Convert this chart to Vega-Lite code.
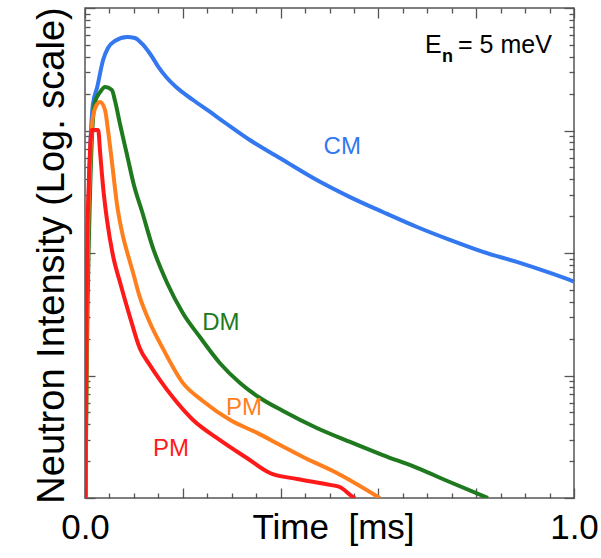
{
  "$schema": "https://vega.github.io/schema/vega-lite/v6.json",
  "width": 489,
  "height": 490,
  "autosize": {"type": "none"},
  "padding": {"left": 85, "top": 8, "right": 27, "bottom": 60},
  "background": "white",
  "config": {
    "view": {"stroke": "#555555", "strokeWidth": 1.5},
    "font": "Liberation Sans",
    "axis": {"domain": false, "grid": false}
  },
  "resolve": {"axis": {"x": "independent", "y": "independent"}},
  "layer": [
    {
      "data": {"values": [
        {"s": "CM", "t": 0.001, "I": 1},
        {"s": "CM", "t": 0.002, "I": 6.3},
        {"s": "CM", "t": 0.006, "I": 128},
        {"s": "CM", "t": 0.016, "I": 1615},
        {"s": "CM", "t": 0.025, "I": 2265},
        {"s": "CM", "t": 0.037, "I": 3763},
        {"s": "CM", "t": 0.047, "I": 4713},
        {"s": "CM", "t": 0.061, "I": 5383},
        {"s": "CM", "t": 0.086, "I": 5799},
        {"s": "CM", "t": 0.102, "I": 5690},
        {"s": "CM", "t": 0.117, "I": 5090},
        {"s": "CM", "t": 0.133, "I": 4230},
        {"s": "CM", "t": 0.149, "I": 3360},
        {"s": "CM", "t": 0.166, "I": 2730},
        {"s": "CM", "t": 0.188, "I": 2230},
        {"s": "CM", "t": 0.221, "I": 1774},
        {"s": "CM", "t": 0.256, "I": 1416},
        {"s": "CM", "t": 0.29, "I": 1130},
        {"s": "CM", "t": 0.337, "I": 836},
        {"s": "CM", "t": 0.405, "I": 574},
        {"s": "CM", "t": 0.474, "I": 394},
        {"s": "CM", "t": 0.542, "I": 286},
        {"s": "CM", "t": 0.609, "I": 216},
        {"s": "CM", "t": 0.679, "I": 163},
        {"s": "CM", "t": 0.746, "I": 128},
        {"s": "CM", "t": 0.814, "I": 102},
        {"s": "CM", "t": 0.883, "I": 84.5},
        {"s": "CM", "t": 0.951, "I": 68.7},
        {"s": "CM", "t": 1.0, "I": 58.5},

        {"s": "DM", "t": 0.001, "I": 1},
        {"s": "DM", "t": 0.004, "I": 16.1},
        {"s": "DM", "t": 0.01, "I": 271},
        {"s": "DM", "t": 0.02, "I": 1676},
        {"s": "DM", "t": 0.031, "I": 2062},
        {"s": "DM", "t": 0.041, "I": 2265},
        {"s": "DM", "t": 0.055, "I": 2142},
        {"s": "DM", "t": 0.061, "I": 1774},
        {"s": "DM", "t": 0.072, "I": 1109},
        {"s": "DM", "t": 0.086, "I": 631},
        {"s": "DM", "t": 0.1, "I": 359},
        {"s": "DM", "t": 0.117, "I": 216},
        {"s": "DM", "t": 0.137, "I": 116},
        {"s": "DM", "t": 0.168, "I": 56.9},
        {"s": "DM", "t": 0.2, "I": 32.4},
        {"s": "DM", "t": 0.235, "I": 20.6},
        {"s": "DM", "t": 0.276, "I": 12.6},
        {"s": "DM", "t": 0.317, "I": 8.69},
        {"s": "DM", "t": 0.358, "I": 6.55},
        {"s": "DM", "t": 0.405, "I": 5.13},
        {"s": "DM", "t": 0.474, "I": 3.73},
        {"s": "DM", "t": 0.542, "I": 2.87},
        {"s": "DM", "t": 0.609, "I": 2.24},
        {"s": "DM", "t": 0.679, "I": 1.76},
        {"s": "DM", "t": 0.746, "I": 1.35},
        {"s": "DM", "t": 0.824, "I": 1.0},

        {"s": "PM1", "t": 0.001, "I": 1},
        {"s": "PM1", "t": 0.004, "I": 41.3},
        {"s": "PM1", "t": 0.01, "I": 476},
        {"s": "PM1", "t": 0.016, "I": 1289},
        {"s": "PM1", "t": 0.025, "I": 1645},
        {"s": "PM1", "t": 0.031, "I": 1710},
        {"s": "PM1", "t": 0.041, "I": 1469},
        {"s": "PM1", "t": 0.047, "I": 1009},
        {"s": "PM1", "t": 0.057, "I": 476},
        {"s": "PM1", "t": 0.065, "I": 256},
        {"s": "PM1", "t": 0.078, "I": 135},
        {"s": "PM1", "t": 0.088, "I": 96},
        {"s": "PM1", "t": 0.098, "I": 69.6},
        {"s": "PM1", "t": 0.112, "I": 43.8},
        {"s": "PM1", "t": 0.133, "I": 26.8},
        {"s": "PM1", "t": 0.16, "I": 16.4},
        {"s": "PM1", "t": 0.2, "I": 8.7},
        {"s": "PM1", "t": 0.241, "I": 6.2},
        {"s": "PM1", "t": 0.297, "I": 4.33},
        {"s": "PM1", "t": 0.352, "I": 3.4},
        {"s": "PM1", "t": 0.399, "I": 2.71},
        {"s": "PM1", "t": 0.446, "I": 2.16},
        {"s": "PM1", "t": 0.515, "I": 1.6},
        {"s": "PM1", "t": 0.603, "I": 1.0},

        {"s": "PM2", "t": 0.001, "I": 1},
        {"s": "PM2", "t": 0.002, "I": 6.3},
        {"s": "PM2", "t": 0.004, "I": 87.7},
        {"s": "PM2", "t": 0.008, "I": 394},
        {"s": "PM2", "t": 0.014, "I": 1009},
        {"s": "PM2", "t": 0.027, "I": 1009},
        {"s": "PM2", "t": 0.031, "I": 655},
        {"s": "PM2", "t": 0.037, "I": 346},
        {"s": "PM2", "t": 0.045, "I": 186},
        {"s": "PM2", "t": 0.057, "I": 96.3},
        {"s": "PM2", "t": 0.072, "I": 56.9},
        {"s": "PM2", "t": 0.092, "I": 30.0},
        {"s": "PM2", "t": 0.112, "I": 16.7},
        {"s": "PM2", "t": 0.133, "I": 12.1},
        {"s": "PM2", "t": 0.153, "I": 9.2},
        {"s": "PM2", "t": 0.18, "I": 6.6},
        {"s": "PM2", "t": 0.221, "I": 4.33},
        {"s": "PM2", "t": 0.276, "I": 2.97},
        {"s": "PM2", "t": 0.331, "I": 2.12},
        {"s": "PM2", "t": 0.378, "I": 1.6},
        {"s": "PM2", "t": 0.434, "I": 1.43},
        {"s": "PM2", "t": 0.501, "I": 1.28},
        {"s": "PM2", "t": 0.521, "I": 1.23},
        {"s": "PM2", "t": 0.548, "I": 1.02},
        {"s": "PM2", "t": 0.552, "I": 1.0}
      ]},
      "mark": {"type": "line", "strokeWidth": 4, "interpolate": "monotone", "clip": true},
      "encoding": {
        "x": {
          "field": "t", "type": "quantitative",
          "scale": {"domain": [0, 1], "nice": false, "zero": false},
          "axis": {
            "orient": "bottom",
            "values": [0, 0.05, 0.1, 0.15, 0.2, 0.25, 0.3, 0.35, 0.4, 0.45, 0.5, 0.55, 0.6, 0.65, 0.7, 0.75, 0.8, 0.85, 0.9, 0.95, 1],
            "tickSize": {"condition": {"test": "abs(datum.value*5 - round(datum.value*5)) < 0.001", "value": -10}, "value": -5},
            "tickColor": "#555555", "tickWidth": 1.3,
            "labelExpr": "datum.value === 0 ? '0.0' : (datum.value === 1 ? '1.0' : '')",
            "labelFontSize": 35, "labelColor": "black", "labelPadding": 50,
            "labelBaseline": "alphabetic", "labelAlign": "center", "labelFlush": false, "labelOverlap": false,
            "title": "Time\u00a0 [ms]", "titleFontSize": 35, "titleFontWeight": "normal", "titleColor": "black",
            "titleX": 248, "titleY": 40, "titleBaseline": "alphabetic", "titleAlign": "center"
          }
        },
        "y": {
          "field": "I", "type": "quantitative",
          "scale": {"type": "log", "domain": [1, 10000], "nice": false},
          "axis": {
            "orient": "left",
            "values": [1,2,3,4,5,6,7,8,9,10,20,30,40,50,60,70,80,90,100,200,300,400,500,600,700,800,900,1000,2000,3000,4000,5000,6000,7000,8000,9000,10000],
            "tickSize": {"condition": {"test": "abs(log(datum.value)/LN10 - round(log(datum.value)/LN10)) < 0.001", "value": -10}, "value": -5},
            "tickColor": "#555555", "tickWidth": 1.3,
            "labels": false,
            "title": "Neutron Intensity (Log. scale)", "titleFontSize": 38, "titleFontWeight": "normal", "titleColor": "black",
            "titleAngle": -90, "titleX": -22, "titleY": 247, "titleBaseline": "alphabetic", "titleAlign": "center"
          }
        },
        "color": {
          "field": "s", "type": "nominal",
          "scale": {"domain": ["CM", "DM", "PM1", "PM2"], "range": ["#3478f0", "#1f7a1f", "#ff7f1e", "#ff1a1a"]},
          "legend": null
        }
      }
    },
    {
      "data": {"values": [
        {"s": "CM", "label": "CM", "t": 0.526, "I": 733},
        {"s": "DM", "label": "DM", "t": 0.278, "I": 26.8},
        {"s": "PM1", "label": "PM", "t": 0.325, "I": 5.43},
        {"s": "PM2", "label": "PM", "t": 0.176, "I": 2.51}
      ]},
      "mark": {"type": "text", "fontSize": 24, "align": "center", "baseline": "middle"},
      "encoding": {
        "x": {
          "field": "t", "type": "quantitative",
          "axis": {
            "orient": "top",
            "values": [0, 0.05, 0.1, 0.15, 0.2, 0.25, 0.3, 0.35, 0.4, 0.45, 0.5, 0.55, 0.6, 0.65, 0.7, 0.75, 0.8, 0.85, 0.9, 0.95, 1],
            "tickSize": {"condition": {"test": "abs(datum.value*5 - round(datum.value*5)) < 0.001", "value": -10}, "value": -5},
            "tickColor": "#555555", "tickWidth": 1.3,
            "labels": false, "title": null
          }
        },
        "y": {
          "field": "I", "type": "quantitative",
          "axis": {
            "orient": "right",
            "values": [1,2,3,4,5,6,7,8,9,10,20,30,40,50,60,70,80,90,100,200,300,400,500,600,700,800,900,1000,2000,3000,4000,5000,6000,7000,8000,9000,10000],
            "tickSize": {"condition": {"test": "abs(log(datum.value)/LN10 - round(log(datum.value)/LN10)) < 0.001", "value": -10}, "value": -5},
            "tickColor": "#555555", "tickWidth": 1.3,
            "labels": false, "title": null
          }
        },
        "text": {"field": "label", "type": "nominal"},
        "color": {"field": "s", "type": "nominal", "legend": null}
      }
    },
    {
      "data": {"values": [{"t": 0.6953, "I": 4295}]},
      "mark": {"type": "text", "text": "E", "fontSize": 25, "align": "left", "baseline": "alphabetic", "color": "black"},
      "encoding": {
        "x": {"field": "t", "type": "quantitative", "axis": null},
        "y": {"field": "I", "type": "quantitative", "axis": null}
      }
    },
    {
      "data": {"values": [{"t": 0.6953, "I": 4295}]},
      "mark": {"type": "text", "text": "n", "fontSize": 18, "fontWeight": "bold", "dx": 17, "dy": 9, "align": "left", "baseline": "alphabetic", "color": "black"},
      "encoding": {
        "x": {"field": "t", "type": "quantitative", "axis": null},
        "y": {"field": "I", "type": "quantitative", "axis": null}
      }
    },
    {
      "data": {"values": [{"t": 0.6953, "I": 4295}]},
      "mark": {"type": "text", "text": "= 5 meV", "fontSize": 25, "dx": 33, "align": "left", "baseline": "alphabetic", "color": "black"},
      "encoding": {
        "x": {"field": "t", "type": "quantitative", "axis": null},
        "y": {"field": "I", "type": "quantitative", "axis": null}
      }
    }
  ]
}
